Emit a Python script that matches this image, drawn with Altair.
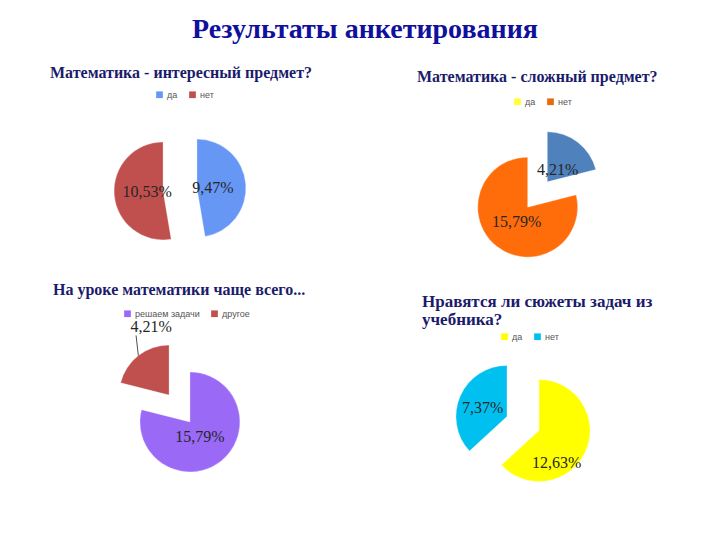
import altair as alt
import pandas as pd

# ---------------- data ----------------
main_title = "Результаты анкетирования"

q1_title = ["Математика - интересный предмет?"]
q1_cats = ["да", "нет"]
q1_vals = [9.47, 10.53]
q1_labels = ["9,47%", "10,53%"]
q1_slice_colors = ["#6797f5", "#c0504d"]
q1_legend_colors = ["#6797f5", "#c0504d"]

q2_title = ["Математика - сложный предмет?"]
q2_cats = ["да", "нет"]
q2_vals = [4.21, 15.79]
q2_labels = ["4,21%", "15,79%"]
q2_slice_colors = ["#4f81bd", "#ff6d0a"]
q2_legend_colors = ["#ffff33", "#e46c0a"]

q3_title = ["На уроке математики чаще всего..."]
q3_cats = ["решаем задачи", "другое"]
q3_vals = [15.79, 4.21]
q3_labels = ["15,79%", "4,21%"]
q3_slice_colors = ["#9a6af7", "#c0504d"]
q3_legend_colors = ["#9a6af7", "#c0504d"]

q4_title = ["Нравятся ли сюжеты задач из", "учебника?"]
q4_cats = ["да", "нет"]
q4_vals = [12.63, 7.37]
q4_labels = ["12,63%", "7,37%"]
q4_slice_colors = ["#ffff00", "#00c0f0"]
q4_legend_colors = ["#ffff00", "#00c0f0"]

# ---------------- layout (styles / positions) ----------------
layout = [
    dict(cx=180, cy=189.5, r=49, e=17, lr=[16, 16], lshift=[5, 0], leader=[0, 0],
         tx=50, ty=73, tfs=16, lgx=155, lgy=90),
    dict(cx=537.5, cy=194.5, r=50, e=16, lr=[16, 18.6], lshift=[2, -2], leader=[0, 0],
         tx=417, ty=77, tfs=16, lgx=513, lgy=97),
    dict(cx=179.5, cy=408.5, r=50, e=17, lr=[18, 70], lshift=[4, 23], leader=[0, 1],
         tx=53, ty=290, tfs=16, lgx=123, lgy=309),
    dict(cx=523, cy=423.5, r=51, e=17.5, lr=[36.5, 26], lshift=[37.6, -3.5], leader=[0, 0],
         tx=422, ty=302, tfs=17, lgx=500, lgy=332),
]

questions = [
    (q1_title, q1_cats, q1_vals, q1_labels, q1_slice_colors, q1_legend_colors),
    (q2_title, q2_cats, q2_vals, q2_labels, q2_slice_colors, q2_legend_colors),
    (q3_title, q3_cats, q3_vals, q3_labels, q3_slice_colors, q3_legend_colors),
    (q4_title, q4_cats, q4_vals, q4_labels, q4_slice_colors, q4_legend_colors),
]

SERIF = "Liberation Serif"
SANS = "Liberation Sans"

layers = []

# main title
layers.append(
    alt.Chart(alt.Data(values=[{"t": main_title}])).mark_text(
        font=SERIF, fontSize=28, fontWeight="bold", color="#10109c",
        align="center", baseline="middle"
    ).encode(text="t:N", x=alt.value(365), y=alt.value(30))
)

for i, ((title, cats, vals, labels, scol, lcol), lay) in enumerate(zip(questions, layout)):
    df = pd.DataFrame({
        "cat": cats, "val": vals, "label": labels, "color": scol,
        "order": list(range(len(cats))),
        "lr": lay["lr"], "lshift": lay["lshift"], "leader": lay["leader"],
    })
    cx, cy, r, e = lay["cx"], lay["cy"], lay["r"], lay["e"]
    base = (
        alt.Chart(df)
        .transform_joinaggregate(total="sum(val)")
        .transform_window(cum="sum(val)", sort=[alt.SortField("order")], frame=[None, 0])
        .transform_calculate(
            a1="2*PI*datum.cum/datum.total",
            a0="2*PI*(datum.cum-datum.val)/datum.total",
        )
        .transform_calculate(mid="(datum.a0+datum.a1)/2")
        .transform_calculate(
            px=f"{cx}+{e}*sin(datum.mid)",
            py=f"{cy}-{e}*cos(datum.mid)",
            la="datum.mid+datum.lshift*PI/180",
        )
        .transform_calculate(
            lx="datum.px+datum.lr*sin(datum.la)",
            ly="datum.py-datum.lr*cos(datum.la)",
            ox=f"datum.px+{r}*sin(datum.mid)",
            oy=f"datum.py-{r}*cos(datum.mid)",
        )
    )
    arcs = base.mark_arc(radius=r, stroke="#ffffff", strokeWidth=0.3).encode(
        x=alt.X("px:Q", scale=None, axis=None),
        y=alt.Y("py:Q", scale=None, axis=None),
        theta=alt.Theta("a0:Q", scale=None, stack=None),
        theta2=alt.Theta2("a1:Q"),
        fill=alt.Fill("color:N", scale=None),
    )
    leaders = base.transform_filter("datum.leader == 1").transform_calculate(
        ex="datum.lx-15", ey="datum.ly+8"
    ).mark_rule(color="#222222", strokeWidth=0.8).encode(
        x=alt.X("ox:Q", scale=None, axis=None),
        y=alt.Y("oy:Q", scale=None, axis=None),
        x2="ex:Q",
        y2="ey:Q",
    )
    texts = base.mark_text(
        font=SERIF, fontSize=16, color="#262626", align="center", baseline="middle"
    ).encode(
        x=alt.X("lx:Q", scale=None, axis=None),
        y=alt.Y("ly:Q", scale=None, axis=None),
        text="label:N",
    )
    sub = alt.Chart(alt.Data(values=[{"t": 0}])).mark_text(
        text=title if len(title) > 1 else title[0],
        font=SERIF, fontSize=lay["tfs"], fontWeight="bold", color="#1b1b6b",
        align="left", baseline="middle", lineHeight=18,
    ).encode(x=alt.value(lay["tx"]), y=alt.value(lay["ty"]))
    legend_layer = alt.Chart(pd.DataFrame({"cat": cats})).transform_filter("false").mark_square(
        size=40, opacity=1
    ).encode(
        color=alt.Color(
            "cat:N",
            scale=alt.Scale(domain=cats, range=lcol),
            legend=alt.Legend(
                title=None, orient="none", legendX=lay["lgx"], legendY=lay["lgy"],
                direction="horizontal", symbolType="square", symbolSize=45,
                labelFont=SANS, labelFontSize=9, labelColor="#555555",
                columnPadding=10, labelOffset=3, symbolStrokeWidth=0,
            ),
        ),
        x=alt.value(0), y=alt.value(0),
    )
    layers += [arcs, leaders, texts, sub, legend_layer]

chart = (
    alt.layer(*layers)
    .resolve_scale(color="independent")
    .properties(width=720, height=540, autosize=alt.AutoSizeParams(type="none"), padding=0,
                background="#ffffff")
    .configure_view(stroke=None)
)

chart.save("out.html", embed_options={"renderer": "svg", "actions": False})
